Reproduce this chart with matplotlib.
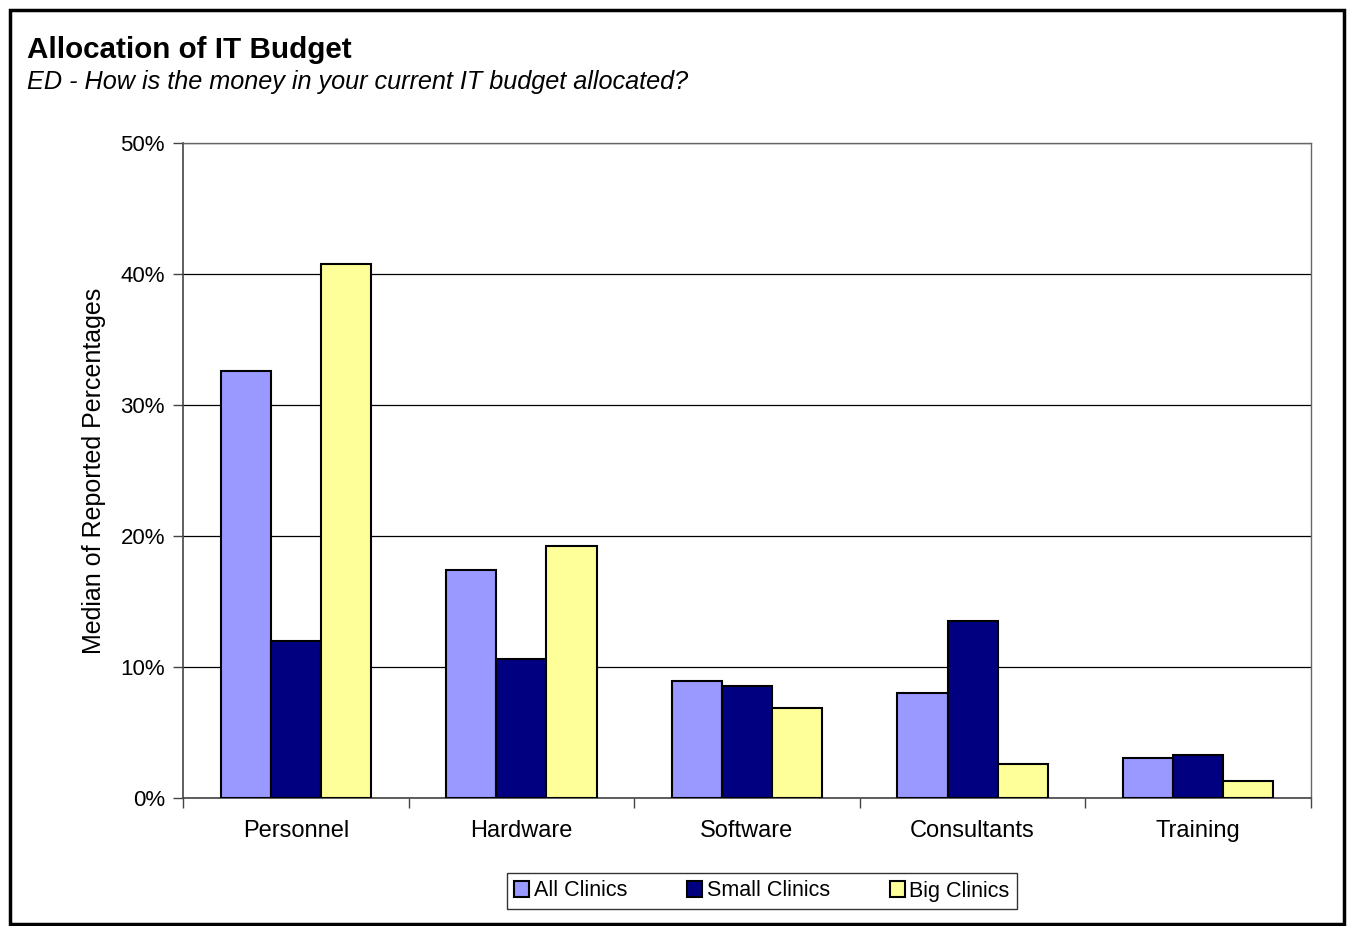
import numpy as np
import matplotlib.pyplot as plt
from matplotlib.patches import Rectangle
from matplotlib.ticker import PercentFormatter

plt.rcParams['font.family'] = ['Liberation Sans', 'DejaVu Sans']

categories = ['Personnel', 'Hardware', 'Software', 'Consultants', 'Training']
series_names = ['All Clinics', 'Small Clinics', 'Big Clinics']
all_clinics = [32.6, 17.4, 8.9, 8.0, 3.05]
small_clinics = [12.0, 10.6, 8.55, 13.5, 3.3]
big_clinics = [40.8, 19.2, 6.9, 2.6, 1.3]
colors = ['#9999FF', '#000080', '#FFFF99']

fig = plt.figure(figsize=(13.48, 9.26), dpi=100)
ax = fig.add_axes([183 / 1348, 1 - 798 / 926, (1311 - 183) / 1348, (798 - 143) / 926])

x = np.arange(len(categories))
w = 0.2225
for i, (vals, name, c) in enumerate(zip([all_clinics, small_clinics, big_clinics], series_names, colors)):
    ax.bar(x + (i - 1) * w, vals, w, color=c, edgecolor='black', linewidth=1.5,
           label=name, zorder=3)

ax.set_xlim(-0.5, len(categories) - 0.5)
ax.set_ylim(0, 50)
ax.set_yticks(np.arange(0, 51, 10))
ax.yaxis.set_major_formatter(PercentFormatter(decimals=0))
ax.grid(axis='y', color='black', linewidth=0.9, zorder=0)

# category labels centred, ticks on the group boundaries
ax.set_xticks(x)
ax.set_xticklabels(categories, fontsize=17)
ax.tick_params(axis='x', length=0, pad=16)
ax.set_xticks(np.arange(-0.5, len(categories)), minor=True)
ax.tick_params(axis='x', which='minor', length=7, width=1, color='#444444')
ax.tick_params(axis='y', length=7, width=1, labelsize=16, pad=6, color='#444444')

for side in ['left', 'bottom']:
    ax.spines[side].set_color('#444444')
    ax.spines[side].set_linewidth(1.2)
for side in ['top', 'right']:
    ax.spines[side].set_color('#666666')
    ax.spines[side].set_linewidth(1)

ax.set_ylabel('Median of Reported Percentages', fontsize=18, labelpad=10)

leg = ax.legend(loc='center', bbox_to_anchor=(762 / 1348, 1 - 891 / 926),
                bbox_transform=fig.transFigure, ncol=3, fontsize=15.5, frameon=True,
                fancybox=False, edgecolor='black', handlelength=0.7, handleheight=0.7,
                handletextpad=0.2, columnspacing=2.8, borderpad=0.35)
leg.get_frame().set_linewidth(1)

fig.text(27 / 1348, 1 - 58 / 926, 'Allocation of IT Budget', fontsize=21.3,
         fontweight='bold', va='baseline')
fig.text(27 / 1348, 1 - 89 / 926, 'ED - How is the money in your current IT budget allocated?',
         fontsize=18.2, style='italic', va='baseline')

# outer frame around the whole chart
fig.patches.append(Rectangle((9.5 / 1348, 1 - 923.5 / 926), (1344 - 9.5) / 1348, (923.5 - 9.5) / 926,
                             transform=fig.transFigure, fill=False, edgecolor='black',
                             linewidth=2.5))

fig.savefig('out.png', dpi=100)
